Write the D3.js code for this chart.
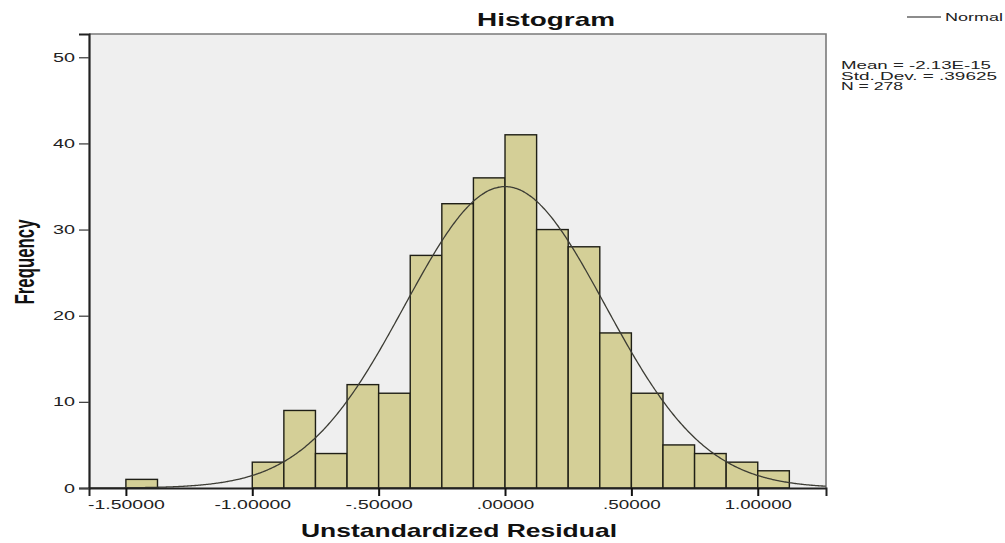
<!DOCTYPE html>
<html>
<head>
    <meta charset="utf-8">
    <title>Histogram</title>
    <script src="https://d3js.org/d3.v7.min.js"></script>
    <style>
        body { margin: 0; background: #fff; }
        text { font-family: "Liberation Sans", Arial, sans-serif; }
    </style>
</head>
<body>
    <div id="chart"></div>
    <script>
        // histogram bins (lower edge) and their counts
        const binLower = [-1.5, -1.375, -1.25, -1.125, -1.0, -0.875, -0.75, -0.625, -0.5, -0.375,
                          -0.25, -0.125, 0, 0.125, 0.25, 0.375, 0.5, 0.625, 0.75, 0.875, 1.0];
        const counts = [1, 0, 0, 0, 3, 9, 4, 12, 11, 27, 33, 36, 41, 30, 28, 18, 11, 5, 4, 3, 2];
        const binWidth = 0.125;

        const xTicks = [-1.5, -1.0, -0.5, 0, 0.5, 1.0];
        const yTicks = [0, 10, 20, 30, 40, 50];

        const statLines = ["Mean = -2.13E-15", "Std. Dev. = .39625", "N = 278"];
        const statWidths = [150, 156, 62];
        const mean = -2.13e-15, stdDev = 0.39625, nObs = 278;

        const width = 1005, height = 543;
        const svg = d3.select("#chart").append("svg")
            .attr("width", width)
            .attr("height", height);

        const x = d3.scaleLinear().domain([-1.646, 1.270]).range([89, 826]);
        const y = d3.scaleLinear().domain([0, 52.7]).range([488, 34]);

        // plot background
        svg.append("rect")
            .attr("x", x.range()[0]).attr("y", y.range()[1])
            .attr("width", x.range()[1] - x.range()[0])
            .attr("height", y.range()[0] - y.range()[1])
            .attr("fill", "#efefef");

        // frame top / right
        svg.append("path")
            .attr("d", `M${x.range()[0]},${y.range()[1]}H${x.range()[1]}V${y.range()[0]}`)
            .attr("fill", "none")
            .attr("stroke", "#7a7a7a")
            .attr("stroke-width", 1.6);

        // bars
        const bins = binLower.map((lo, i) => ({lo: lo, count: counts[i]})).filter(d => d.count > 0);
        svg.append("g").selectAll("rect")
            .data(bins)
            .join("rect")
            .attr("x", d => x(d.lo))
            .attr("y", d => y(d.count))
            .attr("width", d => x(d.lo + binWidth) - x(d.lo))
            .attr("height", d => y(0) - y(d.count))
            .attr("fill", "#d4cf97")
            .attr("stroke", "#1f1f16")
            .attr("stroke-width", 1.4);

        // normal curve from the reported statistics
        const scaleK = nObs * binWidth / (stdDev * Math.sqrt(2 * Math.PI));
        const curvePts = d3.range(x.domain()[0], x.domain()[1] + 0.001, 0.005)
            .map(v => [v, scaleK * Math.exp(-0.5 * Math.pow((v - mean) / stdDev, 2))]);
        svg.append("path")
            .datum(curvePts)
            .attr("fill", "none")
            .attr("stroke", "#3c3c34")
            .attr("stroke-width", 1.3)
            .attr("d", d3.line().x(d => x(d[0])).y(d => y(d[1])).curve(d3.curveBasis));

        // x axis
        const fmtX = v => d3.format(".5f")(v).replace("\u2212", "-").replace(/^(-?)0\./, "$1.");
        const xAxis = svg.append("g")
            .attr("transform", `translate(0,${y(0)})`)
            .call(d3.axisBottom(x).tickValues(xTicks).tickSize(8).tickPadding(4).tickFormat(fmtX));
        xAxis.select(".domain").attr("stroke", "#222").attr("stroke-width", 2);
        xAxis.selectAll(".tick line").attr("stroke", "#111").attr("stroke-width", 2);
        xAxis.selectAll(".tick text")
            .attr("font-size", 12.5)
            .attr("fill", "#222")
            .attr("y", 21)
            .attr("dy", 0)
            .attr("textLength", d => fmtX(d).length * 9.6)
            .attr("lengthAdjust", "spacingAndGlyphs");

        // y axis
        const yAxis = svg.append("g")
            .attr("transform", `translate(${x.range()[0]},0)`)
            .call(d3.axisLeft(y).tickValues(yTicks).tickSize(10).tickPadding(4));
        yAxis.select(".domain").attr("stroke", "#222").attr("stroke-width", 2.2);
        yAxis.selectAll(".tick line").attr("stroke", "#444").attr("stroke-width", 1.3);
        yAxis.selectAll(".tick text")
            .attr("font-size", 12.5)
            .attr("fill", "#222")
            .attr("textLength", d => String(d).length * 11)
            .attr("lengthAdjust", "spacingAndGlyphs");

        // title
        svg.append("text")
            .attr("x", 546).attr("y", 26)
            .attr("text-anchor", "middle")
            .attr("font-size", 19).attr("font-weight", "bold")
            .attr("fill", "#111")
            .attr("textLength", 138).attr("lengthAdjust", "spacingAndGlyphs")
            .text("Histogram");

        // axis titles
        svg.append("text")
            .attr("x", 459).attr("y", 537)
            .attr("text-anchor", "middle")
            .attr("font-size", 19).attr("font-weight", "bold")
            .attr("fill", "#111")
            .attr("textLength", 316).attr("lengthAdjust", "spacingAndGlyphs")
            .text("Unstandardized Residual");

        svg.append("text")
            .attr("transform", "translate(34,262) rotate(-90) scale(1,1.45)")
            .attr("text-anchor", "middle")
            .attr("font-size", 19).attr("font-weight", "bold")
            .attr("fill", "#111")
            .attr("textLength", 85).attr("lengthAdjust", "spacingAndGlyphs")
            .text("Frequency");

        // legend
        svg.append("line")
            .attr("x1", 907).attr("x2", 941).attr("y1", 17).attr("y2", 17)
            .attr("stroke", "#666").attr("stroke-width", 1.3);
        svg.append("text")
            .attr("x", 945).attr("y", 21)
            .attr("font-size", 11).attr("fill", "#222")
            .attr("textLength", 58).attr("lengthAdjust", "spacingAndGlyphs")
            .text("Normal");

        // statistics block
        svg.append("g").selectAll("text")
            .data(statLines)
            .join("text")
            .attr("x", 841)
            .attr("y", (d, i) => 69 + i * 10.6)
            .attr("font-size", 11).attr("fill", "#222")
            .attr("textLength", (d, i) => statWidths[i])
            .attr("lengthAdjust", "spacingAndGlyphs")
            .text(d => d);
    </script>
</body>
</html>
